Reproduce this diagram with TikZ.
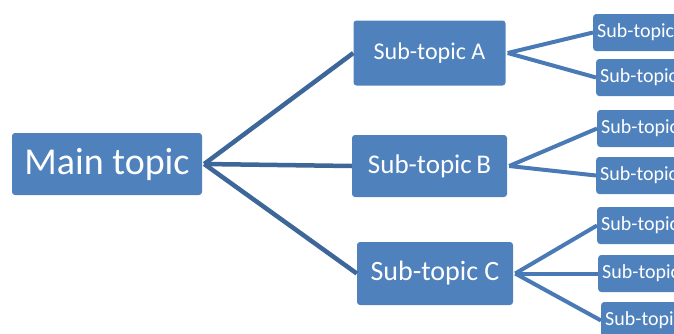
\documentclass[tikz,border=0pt]{standalone}
\usepackage{fontspec}
\setmainfont{Carlito}
\usepackage{xcolor}
\definecolor{boxblue}{HTML}{4F81BD}
\definecolor{stemblue}{HTML}{3D6699}
\definecolor{twigblue}{HTML}{4A7AB5}
\newcommand{\fsz}[1]{\fontsize{#1}{#1}\selectfont}

\begin{document}
\begin{tikzpicture}[x=1pt,y=-1pt,
   topic/.style={rectangle,rounded corners=3pt,fill=boxblue,text=white,inner sep=0pt},
   leaf/.style={topic,anchor=west,minimum height=37pt,text width=112pt,align=left,
                inner xsep=4pt,font=\fsz{20}},
   stem/.style={draw=stemblue,line width=4.5pt},
   twig/.style={draw=twigblue,line width=4pt}]
 \useasboundingbox (0,0) rectangle (674,333);
 \clip (0,0) rectangle (674,333);

 \draw (107,164)   node[topic,minimum width=190pt,minimum height=62pt,font=\fsz{38}] (M)
                   {Main topic};

 \draw (429.5,53)  node[topic,minimum width=152pt,minimum height=65pt,font=\fsz{24}] (A)
                   {Sub-topic A};
 \draw (429.5,166) node[topic,minimum width=155pt,minimum height=62pt,font=\fsz{27}] (B)
                   {Sub-topic\,B};
 \draw (435,273.5) node[topic,minimum width=156pt,minimum height=63pt,font=\fsz{28}] (C)
                   {Sub-topic C};

 \draw (593,32.5)  node[leaf] (A1) {Sub-topic};
 \draw (596,77.5)  node[leaf] (A2) {Sub-topic};
 \draw (597,128.5) node[leaf] (B1) {Sub-topic};
 \draw (596,175.5) node[leaf] (B2) {Sub-topic};
 \draw (597,225.5) node[leaf] (C1) {Sub-topic};
 \draw (598,273.5) node[leaf] (C2) {Sub-topic};
 \draw (601,320.5) node[leaf] (C3) {Sub-topic};

 \draw[stem] ([xshift=2pt]M.east) -- (A.west);
 \draw[stem] ([xshift=2pt]M.east) -- (B.west);
 \draw[stem] ([xshift=2pt]M.east) -- (C.west);

 \draw[twig] ([xshift=2pt]A.east) -- (A1.west);
 \draw[twig] ([xshift=2pt]A.east) -- (A2.west);
 \draw[twig] ([xshift=2pt]B.east) -- (B1.west);
 \draw[twig] ([xshift=2pt]B.east) -- (B2.west);
 \draw[twig] ([xshift=2pt]C.east) -- (C1.west);
 \draw[twig] ([xshift=2pt]C.east) -- (C2.west);
 \draw[twig] ([xshift=2pt]C.east) -- (C3.west);

\end{tikzpicture}
\end{document}
